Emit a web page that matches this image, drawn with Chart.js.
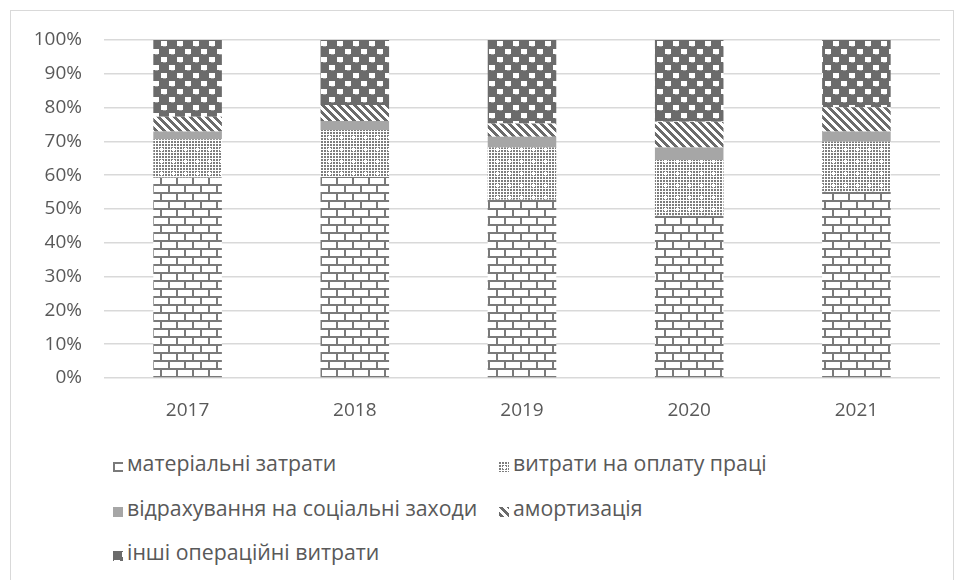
<!DOCTYPE html>
<html>
<head>
<meta charset="utf-8">
<script src="https://cdn.jsdelivr.net/npm/chart.js@4"></script>
<style>
  body { margin: 0; background: #fff; font-family: "Open Sans", sans-serif; }
  #frame { position: absolute; left: 10px; top: 10px; width: 942px; height: 600px; border: 1px solid #d9d9d9; }
  #wrap { position: absolute; left: 0; top: 0; width: 963px; height: 430px; }
  .leg { position: absolute; font-size: 21.3px; color: #595959; white-space: nowrap; line-height: 24px; }
  .leg canvas { vertical-align: -1px; margin-right: 4px; }
</style>
</head>
<body>
<div id="frame"></div>
<div id="wrap"><canvas id="chart"></canvas></div>
<div id="legend"></div>
<script>
// дані
const years = ['2017', '2018', '2019', '2020', '2021'];
const materials = [59.3, 59.5, 52.7, 48.0, 55.1];
const wages = [11.3, 13.9, 15.5, 16.5, 14.8];
const social = [2.3, 2.6, 3.2, 3.7, 3.0];
const amort = [4.4, 4.8, 3.9, 7.6, 7.2];
const other = [22.7, 19.2, 24.7, 24.2, 19.9];
const seriesNames = ['матеріальні затрати', 'витрати на оплату праці', 'відрахування на соціальні заходи', 'амортизація', 'інші операційні витрати'];

// візерунки
function tile(w, h, draw) {
    const c = document.createElement('canvas');
    c.width = w; c.height = h;
    const g = c.getContext('2d');
    draw(g);
    return c;
}
const dark = '#6b6b6b';
const tiles = [
    tile(16, 16, g => { // цегла
        g.fillStyle = '#fff'; g.fillRect(0, 0, 16, 16);
        g.fillStyle = '#7a7a7a';
        g.fillRect(0, 0, 16, 2); g.fillRect(0, 8, 16, 2);
        g.fillRect(0, 2, 2, 6); g.fillRect(8, 10, 2, 6);
    }),
    tile(12, 12, g => { // дрібна сітка
        g.fillStyle = '#fff'; g.fillRect(0, 0, 12, 12);
        g.fillStyle = '#7d7d7d';
        for (let x = 0; x < 12; x += 3)
            for (let y = 0; y < 12; y += 3) g.fillRect(x, y, 2, 2);
        g.fillStyle = '#fff'; g.fillRect(4, 4, 3, 3);
    }),
    tile(4, 4, g => { g.fillStyle = '#a6a6a6'; g.fillRect(0, 0, 4, 4); }),
    tile(8, 8, g => { // діагональ
        g.fillStyle = '#fff'; g.fillRect(0, 0, 8, 8);
        g.fillStyle = dark;
        for (let x = 0; x < 8; x++)
            for (let y = 0; y < 8; y++)
                if ((x - y + 8) % 8 < 4) g.fillRect(x, y, 1, 1);
    }),
    tile(16, 16, g => { // кулі
        g.fillStyle = dark; g.fillRect(0, 0, 16, 16);
        g.fillStyle = '#fff';
        g.fillRect(9, 1, 6, 5); g.fillRect(1, 9, 6, 5);
        g.fillStyle = '#9a9a9a';
        g.fillRect(11, 6, 3, 1); g.fillRect(3, 14, 3, 1);
    })
];
const ctx = document.getElementById('chart').getContext('2d');
const fills = tiles.map(t => ctx.createPattern(t, 'repeat'));
const values = [materials, wages, social, amort, other];

const chart = new Chart(ctx, {
    type: 'bar',
    data: {
        labels: years,
        datasets: values.map((v, i) => ({
            label: seriesNames[i],
            data: v,
            backgroundColor: fills[i],
            borderWidth: 0,
            barPercentage: 0.41,
            categoryPercentage: 1
        }))
    },
    options: {
        responsive: true,
        maintainAspectRatio: false,
        animation: false,
        layout: { padding: { top: 40, right: 23, left: 0, bottom: 0 } },
        plugins: { legend: { display: false }, tooltip: { enabled: false } },
        scales: {
            x: {
                stacked: true,
                grid: { display: false, drawTicks: false },
                border: { display: false },
                ticks: { color: '#595959', font: { family: 'Open Sans', size: 19 }, padding: 21 },
                afterFit: s => { s.height = 52; }
            },
            y: {
                stacked: true,
                min: 0, max: 100,
                grid: { color: '#d9d9d9', lineWidth: 1.5, drawTicks: false },
                border: { display: false },
                ticks: {
                    stepSize: 10,
                    color: '#595959',
                    font: { family: 'Open Sans', size: 19 },
                    padding: 22,
                    callback: v => v + '%'
                },
                afterFit: s => { s.width = 104; }
            }
        }
    }
});

// легенда
const legendPos = [[113, 451], [499, 451], [113, 496], [499, 496], [113, 540]];
const legend = document.getElementById('legend');
seriesNames.forEach((name, i) => {
    const d = document.createElement('div');
    d.className = 'leg';
    d.style.left = legendPos[i][0] + 'px';
    d.style.top = legendPos[i][1] + 'px';
    const sw = document.createElement('canvas');
    sw.width = 10; sw.height = 10;
    const g = sw.getContext('2d');
    g.fillStyle = g.createPattern(tiles[i], 'repeat');
    g.fillRect(0, 0, 10, 10);
    d.appendChild(sw);
    d.appendChild(document.createTextNode(name));
    legend.appendChild(d);
});
</script>
</body>
</html>
